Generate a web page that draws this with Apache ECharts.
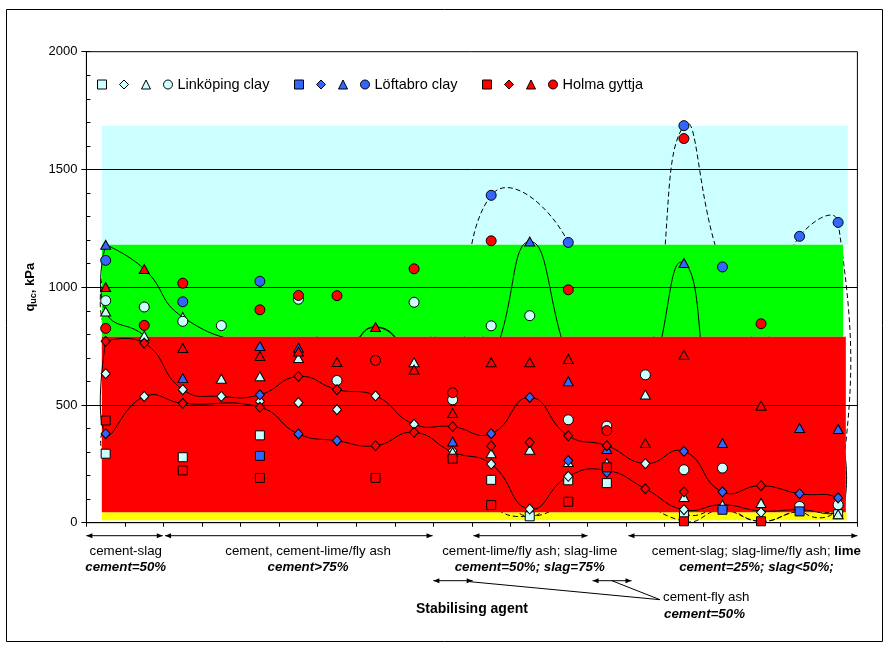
<!DOCTYPE html>
<html>
<head>
<meta charset="utf-8">
<script src="https://cdn.jsdelivr.net/npm/echarts@6/dist/echarts.min.js"></script>
<style>
  html, body { margin: 0; padding: 0; background: #fff; }
  #chart { width: 889px; height: 650px; }
</style>
</head>
<body>
<div id="chart"></div>
<script>
// Unconfined compressive strength q_uc (kPa) of stabilised soils, 20 mixes along x.
const MIX_COUNT = 20;
const yTickValues = [0, 500, 1000, 1500, 2000];

// Linköping clay: 7 days (squares), 28 days (diamonds), 91 days (triangles), 1 year (circles)
const linkopingSquare   = [293, null, 278, null, 371, null, null, null, null, null, 182, 27, 180, 168, null, 38, null, null, null, 36];
const linkopingDiamond  = [633, 536, 565, 536, 515, 510, 480, 539, 418, 306, 249, 58, 197, null, 251, 55, null, 44, null, null];
const linkopingTriangle = [897, 794, 873, 611, 622, 699, null, null, 681, 300, 295, 310, 258, 253, 544, 109, 76, 84, null, 36];
const linkopingCircle   = [943, 916, 855, 837, null, 949, 604, null, 936, 522, 836, 879, 437, 410, 628, 225, 232, null, 69, 76];

// Löftabro clay
const loftabroSquare   = [null, null, null, null, 284, null, null, null, null, null, null, null, null, null, null, null, 55, null, 48, null];
const loftabroDiamond  = [378, null, null, null, 543, 377, 348, null, null, null, 378, 532, 264, 214, null, 303, 131, null, 123, 105];
const loftabroTriangle = [1180, null, 614, null, 750, 743, null, null, null, 345, null, 1194, 600, 313, null, 1103, 338, null, 402, 398];
const loftabroCircle   = [1114, null, 938, null, 1025, null, null, null, null, null, 1390, null, 1190, null, null, 1686, 1086, null, 1216, 1275];

// Holma gyttja
const holmaSquare   = [434, null, 222, null, 190, null, null, 190, null, 272, 75, null, 89, 235, null, 6, null, 6, null, null];
const holmaDiamond  = [770, 763, 507, null, 490, 621, 565, 327, 384, 408, 326, 341, 369, 327, 144, 131, null, 157, null, null];
const holmaTriangle = [1001, 1077, 742, null, 708, 727, 682, 831, 650, 466, 681, 681, 695, null, 338, 713, null, 497, null, null];
const holmaCircle   = [825, 838, 1017, null, 904, 965, 964, 689, 1078, 552, 1197, null, 989, 391, null, 1631, null, 845, null, null];

// Envelope curves per curing time (upper and lower bound nodes per mix)
const envelope7Upper  = [434, null, 278, null, 371, null, null, 190, null, 272, 182, 27, 180, 235, null, 38, 55, 6, 48, 36];
const envelope7Lower  = [293, null, 222, null, 190, null, null, 190, null, 272, 75, 27, 89, 168, null, 6, 55, 6, 48, 36];
const envelope28Upper = [770, 763, 565, 536, 543, 621, 565, 539, 418, 408, 378, 532, 369, 327, 251, 303, 131, 157, 123, 105];
const envelope28Lower = [378, 536, 507, null, 490, 377, 348, 327, 384, 300, 249, 58, 197, 222, 144, 55, 76, 50, 55, 44];
const envelope91Upper = [1180, 1077, 873, null, 750, 743, 682, 831, 681, 466, 681, 1194, 695, 313, 544, 1103, 338, 497, 402, 398];
const envelope91Lower = [897, 794, 614, 611, 622, 699, 682, 831, 650, 300, 295, 310, 258, 253, 338, 109, 76, 84, 402, 36];
const envelope1yUpper = [1114, 916, 1017, 837, 1025, 965, 964, 689, 1078, 552, 1390, null, 1190, 410, 628, 1686, 1086, 845, 1216, 1275];
const envelope1yLower = [825, 838, 855, 837, 904, 949, 604, 689, 936, 522, 836, 879, 437, 391, 628, 225, 232, 845, 69, 76];

// Strength classes shown as background bands (kPa)
const bandLow  = [10, 44, 790, 1180];
const bandHigh = [44, 790, 1180, 1686];
const bandEnd  = [19.72, 19.70, 19.63, 19.75];
const BAND_START = 0.4;

// Binder groups along the x axis
const groupNames  = ['cement-slag', 'cement, cement-lime/fly ash', 'cement-lime/fly ash; slag-lime', 'cement-slag; slag-lime/fly ash; {b|lime}'];
const groupShares = ['cement=50%', 'cement>75%', 'cement=50%; slag=75%', 'cement=25%; slag<50%;'];
const groupFrom   = [0, 2.04, 10.04, 14.06];
const groupTo     = [1.98, 8.98, 13.0, 20];
const groupCenter = [1.02, 5.75, 11.5, 17.38];
const flyAshFrom  = [9.0, 13.13];
const flyAshTo    = [10.02, 14.14];

const FONT = '"Liberation Sans", Arial, sans-serif';
const mixX = i => i + 0.5;

function toPoints(arr) {
  const out = [];
  arr.forEach((v, i) => { if (v != null) out.push([mixX(i), v]); });
  return out;
}

function loopNodes(upper, lower) {
  const pts = [];
  upper.forEach((v, i) => { if (v != null) pts.push([mixX(i), v]); });
  for (let i = lower.length - 1; i >= 0; i--) if (lower[i] != null) pts.push([mixX(i), lower[i]]);
  pts.push(pts[0].slice());
  return pts.filter((p, k) => k === 0 || p[0] !== pts[k - 1][0] || p[1] !== pts[k - 1][1]);
}

function bandSeries(k, color, z) {
  return {
    type: 'custom', z, silent: true, animation: false,
    data: [[BAND_START, bandLow[k], bandEnd[k], bandHigh[k]]],
    encode: { x: [0, 2], y: [1, 3] },
    renderItem: (params, api) => {
      const a = api.coord([api.value(0), api.value(3)]);
      const b = api.coord([api.value(2), api.value(1)]);
      return { type: 'rect', shape: { x: a[0], y: a[1], width: b[0] - a[0], height: b[1] - a[1] }, style: { fill: color } };
    }
  };
}

function envelopeSeries(name, upper, lower, dashed, z) {
  const nodes = loopNodes(upper, lower);
  return {
    type: 'custom', name, z, silent: true, animation: false,
    data: nodes, encode: { x: 0, y: 1 },
    renderItem: (params, api) => {
      if (params.dataIndex !== 0) return;
      return {
        type: 'polyline',
        shape: { points: nodes.map(p => api.coord(p)), smooth: 0.5 },
        style: { fill: null, stroke: '#000', lineWidth: 1, lineDash: dashed ? [5, 3] : null }
      };
    }
  };
}

const gridValues = yTickValues.filter(v => v > 0 && v < 2000);
const gridSeries = {
  type: 'custom', z: 7, silent: true, animation: false,
  data: gridValues.map(v => [0, v, MIX_COUNT]), encode: { x: [0, 2], y: 1 },
  renderItem: (params, api) => {
    const a = api.coord([api.value(0), api.value(1)]);
    const b = api.coord([api.value(2), api.value(1)]);
    const y = Math.round(a[1]) + 0.5;
    return { type: 'line', shape: { x1: a[0], y1: y, x2: b[0], y2: y }, style: { stroke: '#000', lineWidth: 1 } };
  }
};

const soils = [
  { name: 'Linköping clay', color: '#CCFFFF', sets: [linkopingSquare, linkopingDiamond, linkopingTriangle, linkopingCircle] },
  { name: 'Löftabro clay',  color: '#3366FF', sets: [loftabroSquare, loftabroDiamond, loftabroTriangle, loftabroCircle] },
  { name: 'Holma gyttja',   color: '#FF0000', sets: [holmaSquare, holmaDiamond, holmaTriangle, holmaCircle] }
];
const ages = ['7 days', '28 days', '91 days', '1 year'];
const symbols = ['rect', 'diamond', 'triangle', 'circle'];
const symbolSizes = [9, [9, 10], [10, 9], 10];

const markerSeries = [];
soils.forEach(soil => {
  soil.sets.forEach((arr, k) => {
    markerSeries.push({
      type: 'scatter', name: soil.name + ', ' + ages[k], z: 10, silent: true, animation: false,
      data: toPoints(arr), symbol: symbols[k], symbolSize: symbolSizes[k],
      itemStyle: { color: soil.color, borderColor: '#000', borderWidth: 1, opacity: 1 },
      emphasis: { disabled: true }
    });
  });
});

const legendLeft = [92, 289, 477];
const legends = soils.map((soil, s) => ({
  left: legendLeft[s], top: 72, orient: 'horizontal',
  itemWidth: 9, itemHeight: 9, itemGap: 12, selectedMode: false,
  data: ages.map((a, k) => ({ name: soil.name + ', ' + a, icon: symbols[k] })),
  itemStyle: { borderColor: '#000', borderWidth: 1 },
  formatter: n => n.endsWith('1 year') ? n.split(',')[0] : '',
  textStyle: { color: '#000', fontSize: 14.5, fontFamily: FONT, padding: 0 }
}));

const chart = echarts.init(document.getElementById('chart'));

chart.setOption({
  animation: false,
  backgroundColor: '#fff',
  grid: { left: 86.4, top: 51.7, width: 771, height: 471, show: true, borderColor: '#000', borderWidth: 1, backgroundColor: 'transparent' },
  legend: legends,
  xAxis: {
    type: 'value', min: 0, max: MIX_COUNT, interval: 1,
    axisLine: { show: true, onZero: false, lineStyle: { color: '#000', width: 1 } },
    axisTick: { show: true, length: 4, lineStyle: { color: '#000' } },
    axisLabel: { show: false }, splitLine: { show: false }
  },
  yAxis: [
    {
      type: 'value', min: 0, max: 2000, interval: 500, position: 'left',
      axisLine: { show: true, lineStyle: { color: '#000', width: 1 } },
      axisTick: { show: true, length: 5, lineStyle: { color: '#000' } },
      axisLabel: { color: '#000', fontSize: 13, fontFamily: FONT, margin: 9, formatter: v => String(v) },
      splitLine: { show: false },
      name: '{q|q}{s|uc}{q|, kPa}', nameLocation: 'middle', nameGap: 44, nameRotate: 90,
      nameTextStyle: {
        rich: {
          q: { fontSize: 13, fontWeight: 'bold', fontFamily: FONT, color: '#000' },
          s: { fontSize: 9, fontWeight: 'bold', fontFamily: FONT, color: '#000', padding: [6, 0, 0, 0] }
        }
      }
    },
    {
      type: 'value', min: 0, max: 2000, interval: 100, position: 'left', offset: 0,
      axisLine: { show: false },
      axisTick: { show: true, inside: true, length: 4, lineStyle: { color: '#000' } },
      axisLabel: { show: false }, splitLine: { show: false }
    }
  ],
  series: [
    bandSeries(3, '#CCFFFF', 1),
    bandSeries(0, '#FFFF00', 1),
    envelopeSeries('1 year envelope', envelope1yUpper, envelope1yLower, true, 2),
    envelopeSeries('7 days envelope', envelope7Upper, envelope7Lower, true, 2),
    bandSeries(2, '#00FF00', 3),
    envelopeSeries('91 days envelope', envelope91Upper, envelope91Lower, false, 4),
    bandSeries(1, '#FF0000', 5),
    envelopeSeries('28 days envelope', envelope28Upper, envelope28Lower, false, 6),
    gridSeries
  ].concat(markerSeries)
});

// Annotations placed through the axis scales
const px = v => chart.convertToPixel({ xAxisIndex: 0 }, v);
const py = v => chart.convertToPixel({ yAxisIndex: 0 }, v);
const axisY = py(0);

function arrow(x0, x1, y) {
  const h = 6, w = 2.5;
  return [
    { type: 'line', shape: { x1: x0, y1: y, x2: x1, y2: y }, style: { stroke: '#000', lineWidth: 1 } },
    { type: 'polygon', shape: { points: [[x0, y], [x0 + h, y - w], [x0 + h, y + w]] }, style: { fill: '#000' } },
    { type: 'polygon', shape: { points: [[x1, y], [x1 - h, y - w], [x1 - h, y + w]] }, style: { fill: '#000' } }
  ];
}

function text(str, x, y, opts) {
  return {
    type: 'text',
    style: Object.assign({
      text: str, x, y, fill: '#000', fontFamily: FONT, fontSize: 13.3,
      align: 'center', verticalAlign: 'middle', textAlign: 'center', textVerticalAlign: 'middle'
    }, opts || {})
  };
}

const bi = { fontWeight: 'bold', fontStyle: 'italic' };
const elements = [];

// curing time labels inside the plot
const ageLabels = [['1 year', 3.72, 964], ['91 days', 3.53, 709], ['28 days', 6.59, 433], ['7 days', 5.52, 260]];
ageLabels.forEach(([t, xv, yv]) => elements.push(text(t, px(xv), py(yv), Object.assign({ fontSize: 14 }, bi))));

// binder groups below the axis
const rowArrow = axisY + 13, rowName = axisY + 28.5, rowShare = axisY + 45, rowFly = axisY + 58;
groupNames.forEach((g, i) => {
  elements.push(...arrow(px(groupFrom[i]), px(groupTo[i]), rowArrow));
  elements.push(text(g, px(groupCenter[i]), rowName, { rich: { b: { fontWeight: 'bold', fontFamily: FONT, fontSize: 13.3, fill: '#000' } } }));
  elements.push(text(groupShares[i], px(groupCenter[i]), rowShare, bi));
});
flyAshFrom.forEach((f, i) => elements.push(...arrow(px(f), px(flyAshTo[i]), rowFly)));
const joinX = px(14.88), joinY = axisY + 77;
elements.push({ type: 'line', shape: { x1: px(9.95), y1: rowFly + 1, x2: joinX, y2: joinY }, style: { stroke: '#000', lineWidth: 1 } });
elements.push({ type: 'line', shape: { x1: px(13.63), y1: rowFly, x2: joinX, y2: joinY }, style: { stroke: '#000', lineWidth: 1 } });
elements.push(text('cement-fly ash', joinX + 3, axisY + 75, { align: 'left', textAlign: 'left' }));
elements.push(text('cement=50%', joinX + 4, axisY + 92, Object.assign({ align: 'left', textAlign: 'left' }, bi)));
elements.push(text('Stabilising agent', px(10.0), axisY + 86.5, { fontWeight: 'bold', fontSize: 14 }));

// outer frame
elements.push({ type: 'rect', shape: { x: 6.5, y: 9.5, width: 876, height: 632 }, style: { fill: null, stroke: '#000', lineWidth: 1 } });

chart.setOption({ graphic: { elements } });
</script>
</body>
</html>
